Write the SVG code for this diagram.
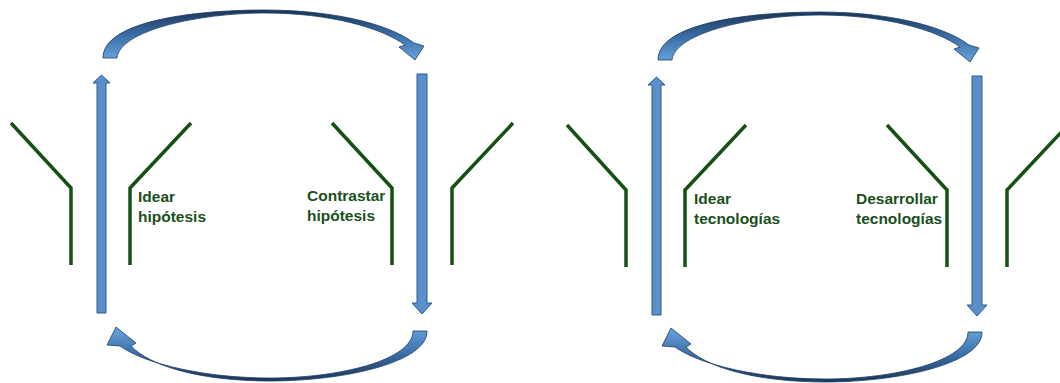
<svg xmlns="http://www.w3.org/2000/svg" width="1060" height="383" viewBox="0 0 1060 383">
<style>
.bar{fill:#5b8fcb;stroke:#2d5a8c;stroke-width:1}
.arcT{fill:url(#gT);stroke:#1f3d63;stroke-width:0.8}
.arcB{fill:url(#gB);stroke:#1f3d63;stroke-width:0.8}
.fun{fill:none;stroke:#145214;stroke-width:3.5;stroke-linejoin:miter}
.lbl{font-family:"Liberation Sans",Arial,sans-serif;font-weight:bold;font-size:15.5px;fill:#1a501c}
</style>
<defs>
<linearGradient id="gT" x1="0" y1="0" x2="0" y2="1">
<stop offset="0" stop-color="#1b3558"/><stop offset="0.5" stop-color="#3a6ea8"/><stop offset="1" stop-color="#6aa3dc"/>
</linearGradient>
<linearGradient id="gB" x1="0" y1="1" x2="0" y2="0">
<stop offset="0" stop-color="#1b3558"/><stop offset="0.5" stop-color="#3a6ea8"/><stop offset="1" stop-color="#6aa3dc"/>
</linearGradient>
<path id="topArc" d="M103 58 L117 58 C120 30 200 13 265 13 C330 13 382 28 405 45 L399 47 L415 60 L424 46 L414 43 C388 23 330 10 265 10 C190 10 103 22 103 58 Z"/>
<path id="botArc" d="M413 331 L427 331 C428 362 345 381 270 381 C200 381 150 366 131 346 L136 343 L116 327 L107 345 L120 346 C145 364 205 378 270 378 C340 378 413 360 413 331 Z"/>
</defs>
<g id="connectors">
<g id="cycle1-top-arc"><use href="#topArc" class="arcT"/></g>
<g id="cycle1-bottom-arc"><use href="#botArc" class="arcB"/></g>
<g id="cycle1-up-arrow"><path class="bar" d="M97 313 L97 83 L93 83 L101.5 75 L110 83 L106 83 L106 313 Z"/></g>
<g id="cycle1-down-arrow"><path class="bar" d="M417 74 L427 74 L427 303 L432 303 L422 314 L412 303 L417 303 Z"/></g>
<g id="cycle2-top-arc" transform="translate(555,2)"><use href="#topArc" class="arcT"/></g>
<g id="cycle2-bottom-arc" transform="translate(555,1)"><use href="#botArc" class="arcB"/></g>
<g id="cycle2-up-arrow"><path class="bar" d="M652 315 L652 85 L648 85 L656.5 77 L665 85 L661 85 L661 315 Z"/></g>
<g id="cycle2-down-arrow"><path class="bar" d="M972 76 L982 76 L982 305 L987 305 L977 316 L967 305 L972 305 Z"/></g>
</g>
<g id="funnel1-left"><polyline class="fun" points="11,123 71,188 71,265"/></g>
<g id="funnel1-right"><polyline class="fun" points="191,123 130,188 130,265"/></g>
<g id="funnel2-left"><polyline class="fun" points="332,123 392,188 392,265"/></g>
<g id="funnel2-right"><polyline class="fun" points="513,123 452,188 452,265"/></g>
<g id="funnel3-left"><polyline class="fun" points="567,125 626,190 626,267"/></g>
<g id="funnel3-right"><polyline class="fun" points="746,125 685,190 685,267"/></g>
<g id="funnel4-left"><polyline class="fun" points="887,125 947,190 947,267"/></g>
<g id="funnel4-right"><polyline class="fun" points="1068,125 1007,190 1007,267"/></g>
<g id="label-idear-hipotesis"><text class="lbl" x="138" y="202">Idear</text><text class="lbl" x="138" y="222">hipótesis</text></g>
<g id="label-contrastar-hipotesis"><text class="lbl" x="307" y="201">Contrastar</text><text class="lbl" x="307" y="221">hipótesis</text></g>
<g id="label-idear-tecnologias"><text class="lbl" x="694" y="204">Idear</text><text class="lbl" x="694" y="224">tecnologías</text></g>
<g id="label-desarrollar-tecnologias"><text class="lbl" x="856" y="204">Desarrollar</text><text class="lbl" x="856" y="224">tecnologías</text></g>
</svg>
